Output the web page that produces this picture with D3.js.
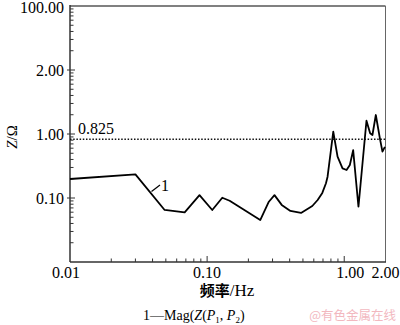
<!DOCTYPE html>
<html>
<head>
<meta charset="utf-8">
<script src="https://cdn.jsdelivr.net/npm/d3@7/dist/d3.min.js"></script>
<style>
  body { margin: 0; background: #fff; }
  svg { display: block; font-family: "Liberation Serif", serif; }
</style>
</head>
<body>
<div id="chart"></div>
<script>
// frequency (Hz) and impedance magnitude
const freq = [0.01, 0.03, 0.049, 0.0686, 0.088, 0.109, 0.129, 0.146, 0.244, 0.282, 0.31,
  0.35, 0.405, 0.484, 0.585, 0.64, 0.692, 0.736, 0.756, 0.8, 0.832, 0.894, 0.972, 1.04,
  1.099, 1.162, 1.27, 1.453, 1.545, 1.606, 1.70, 1.82, 1.90, 1.98];
const mag = [0.198, 0.234, 0.065, 0.0598, 0.111, 0.065, 0.101, 0.0907, 0.0453, 0.0875, 0.111,
  0.078, 0.0627, 0.0584, 0.075, 0.093, 0.12, 0.17, 0.215, 0.56, 1.087, 0.442, 0.291, 0.274,
  0.328, 0.56, 0.0731, 1.61, 1.024, 0.964, 1.98, 0.857, 0.53, 0.63];

const xTickValues = [0.01, 0.1, 1, 2];
const xTickLabels = ["0.01", "0.10", "1.00", "2.00"];
const yTickValues = [0.1, 1, 10, 100];
const yTickLabels = ["0.10", "1.00", "2.00", "100.00"];
const refValue = 0.825;
const refLabel = "0.825";

const width = 400;
const height = 325;
const margin = { top: 6, right: 14.5, bottom: 63, left: 70 };

const svg = d3.select('#chart').append('svg')
    .attr('width', width)
    .attr('height', height);

const x = d3.scaleLog()
    .domain([0.01, 2])
    .range([margin.left, width - margin.right]);

const y = d3.scaleLog()
    .domain([0.01, 100])
    .range([height - margin.bottom, margin.top]);

const x0 = margin.left, x1 = width - margin.right;
const y0 = height - margin.bottom, y1 = margin.top;

// frame
svg.append('line').attr('x1', x0).attr('x2', x1).attr('y1', y1).attr('y2', y1)
    .attr('stroke', '#808080').attr('stroke-width', 2);
svg.append('line').attr('x1', x1).attr('x2', x1).attr('y1', y1).attr('y2', y0)
    .attr('stroke', '#666').attr('stroke-width', 1);

// minor ticks
const minorX = [];
[0.01, 0.1].forEach(d => { for (let k = 2; k <= 9; k++) minorX.push(d * k); });
const minorY = [];
[0.01, 0.1, 1, 10].forEach(d => { for (let k = 2; k <= 9; k++) minorY.push(d * k); });

svg.append('g').selectAll('line').data(minorX).join('line')
    .attr('x1', d => x(d)).attr('x2', d => x(d))
    .attr('y1', y0).attr('y2', y0 - 3.5)
    .attr('stroke', '#333').attr('stroke-width', 1);
svg.append('g').selectAll('line').data([0.1, 1]).join('line')
    .attr('x1', d => x(d)).attr('x2', d => x(d))
    .attr('y1', y0).attr('y2', y0 - 6)
    .attr('stroke', '#333').attr('stroke-width', 1);

svg.append('g').selectAll('line').data(minorY).join('line')
    .attr('x1', x0).attr('x2', x0 + 3.5)
    .attr('y1', d => y(d)).attr('y2', d => y(d))
    .attr('stroke', '#333').attr('stroke-width', 1);
svg.append('g').selectAll('line').data(yTickValues.slice(0, 3)).join('line')
    .attr('x1', x0 - 3).attr('x2', x0 + 5)
    .attr('y1', d => y(d)).attr('y2', d => y(d))
    .attr('stroke', '#333').attr('stroke-width', 1);

// axis lines
svg.append('line').attr('x1', x0).attr('x2', x0).attr('y1', y1 - 1).attr('y2', y0)
    .attr('stroke', '#333').attr('stroke-width', 1.5);
svg.append('line').attr('x1', x0).attr('x2', x1 + 0.5).attr('y1', y0).attr('y2', y0)
    .attr('stroke', '#333').attr('stroke-width', 1.5);

// tick labels (first and third nudged like the original)
const xLabelShift = { 0: -4, 2: 6 };
svg.append('g').selectAll('text').data(xTickValues).join('text')
    .attr('x', (d, i) => x(d) + (xLabelShift[i] || 0))
    .attr('y', y0 + 16)
    .attr('text-anchor', 'middle')
    .attr('font-size', 16)
    .text((d, i) => xTickLabels[i]);

svg.append('g').selectAll('text').data(yTickValues).join('text')
    .attr('x', x0 - 6)
    .attr('y', d => Math.max(y(d) + 5.5, 13))
    .attr('text-anchor', 'end')
    .attr('font-size', 16)
    .text((d, i) => yTickLabels[i]);

// reference line
svg.append('line')
    .attr('x1', x0).attr('x2', x1)
    .attr('y1', y(refValue)).attr('y2', y(refValue))
    .attr('stroke', '#111').attr('stroke-width', 1.5)
    .attr('stroke-dasharray', '1.5,1.7');
svg.append('text')
    .attr('x', x0 + 8).attr('y', y(refValue) - 5)
    .attr('font-size', 16)
    .text(refLabel);

// impedance curve
const pts = freq.map((f, i) => [f, mag[i]]);
const line = d3.line()
    .x(d => x(d[0]))
    .y(d => y(d[1]));

svg.append('path')
    .datum(pts)
    .attr('d', line)
    .attr('fill', 'none')
    .attr('stroke', '#000')
    .attr('stroke-width', 1.8)
    .attr('stroke-linejoin', 'round');

// callout "1"
svg.append('line')
    .attr('x1', 151.5).attr('y1', 191.5).attr('x2', 160).attr('y2', 185)
    .attr('stroke', '#000').attr('stroke-width', 1.2);
svg.append('text')
    .attr('x', 161).attr('y', 191)
    .attr('font-size', 16)
    .text('1');

// axis titles
svg.append('text')
    .attr('x', 227).attr('y', 296)
    .attr('text-anchor', 'middle')
    .attr('font-size', 17)
    .call(t => {
        t.append('tspan').attr('font-family', '"Noto Sans CJK SC"').attr('font-weight', 'bold').attr('font-size', 15).text('频率');
        t.append('tspan').text('/Hz');
    });

svg.append('text')
    .attr('transform', 'translate(17,137) rotate(-90)')
    .attr('text-anchor', 'middle')
    .attr('font-size', 15)
    .call(t => {
        t.append('tspan').attr('font-style', 'italic').text('Z');
        t.append('tspan').text('/Ω');
    });

// caption
svg.append('text')
    .attr('x', 143).attr('y', 320)
    .attr('font-size', 14)
    .call(t => {
        t.append('tspan').text('1—Mag(');
        t.append('tspan').attr('font-style', 'italic').text('Z');
        t.append('tspan').text('(');
        t.append('tspan').attr('font-style', 'italic').text('P');
        t.append('tspan').attr('font-size', 9).attr('dy', 3).text('1');
        t.append('tspan').attr('dy', -3).text(', ');
        t.append('tspan').attr('font-style', 'italic').text('P');
        t.append('tspan').attr('font-size', 9).attr('dy', 3).text('2');
        t.append('tspan').attr('dy', -3).text(')');
    });

// watermark
svg.append('text')
    .attr('x', 396).attr('y', 320)
    .attr('text-anchor', 'end')
    .attr('font-family', '"Noto Sans CJK SC"')
    .attr('font-size', 12.5)
    .attr('fill', '#f2b8bf')
    .text('@有色金属在线');
</script>
</body>
</html>
